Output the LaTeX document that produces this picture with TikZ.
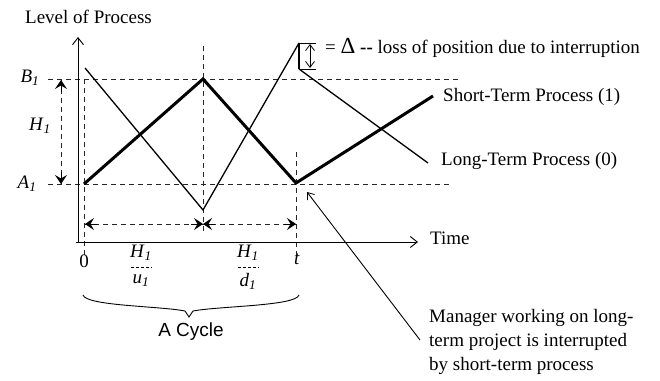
\documentclass[tikz,border=0pt]{standalone}
\usepackage{fontspec}
\setmainfont{Liberation Serif}
\newfontfamily\arialf{Liberation Sans}
\usetikzlibrary{arrows.meta,calc}
\begin{document}
\begin{tikzpicture}[x=1pt,y=-1pt,
  txt/.style={font=\fontsize{19}{23}\selectfont, inner sep=0pt},
  dsh/.style={draw=black!85, line width=0.7pt, dash pattern=on 5pt off 4pt},
  axis/.style={draw, line width=1pt, -{Straight Barb[length=7pt,width=11pt,line width=0.9pt]}},
  thick proc/.style={draw, line width=3pt, line join=miter},
  thin proc/.style={draw, line width=1.3pt, line join=miter},
  hd/.style={-{Stealth[length=9pt,width=12pt,inset=3.5pt,line width=1pt,fill=black]}},
  opentip/.style={-{Straight Barb[length=6pt,width=9pt,line width=0.8pt]}}
]
\useasboundingbox (0,0) rectangle (660,380);
% coordinates
\coordinate (O) at (78,242);
\coordinate (Ytop) at (78,37);
\coordinate (Xst) at (76,242);
\coordinate (Xend) at (418,242);
\coordinate (Bl) at (48,79); \coordinate (Br) at (458,79);
\coordinate (Al) at (48,184); \coordinate (Ar) at (452,184);
\coordinate (V1t) at (84,79); \coordinate (V1b) at (84,256);
\coordinate (V2t) at (203,46); \coordinate (V2b) at (203,234);
\coordinate (V3t) at (296,152); \coordinate (V3b) at (296,258);
\coordinate (S0) at (84,184); \coordinate (S1) at (203,79); \coordinate (S2) at (296,183); \coordinate (S3) at (433,96);
\coordinate (L0) at (85,68); \coordinate (L1) at (203,210); \coordinate (L2) at (299,43); \coordinate (L3) at (299,69); \coordinate (L4) at (428,163);
\coordinate (H1t) at (61,80); \coordinate (H1b) at (61,184);
\coordinate (T0) at (85,224); \coordinate (T1) at (203,224); \coordinate (T2) at (296,224);
\coordinate (Dt) at (300,43); \coordinate (Dtr) at (316,43);
\coordinate (Db) at (300,69); \coordinate (Dbr) at (316,69);
\coordinate (Dat) at (310,44); \coordinate (Dab) at (310,68);
\coordinate (Mtail) at (420,340); \coordinate (Mtip) at (307,192);

% dashed guides
\path[dsh] (Bl) -- (Br);
\path[dsh] (Al) -- (Ar);
\path[dsh] (V1t) -- (V1b);
\path[dsh] (V2t) -- (V2b);
\path[dsh] (V3t) -- (V3b);
\path[dsh] (H1t) -- (H1b);
\path[dsh] (T0) -- (T2);
% solid arrow heads on dashed double arrows
\draw[hd] ($(H1t)+(0,12)$) -- (H1t);
\draw[hd] ($(H1b)+(0,-12)$) -- (H1b);
\draw[hd] ($(T0)+(12,0)$) -- (T0);
\draw[hd] ($(T1)+(-12,0)$) -- (T1);
\draw[hd] ($(T1)+(12,0)$) -- (T1);
\draw[hd] ($(T2)+(-12,0)$) -- (T2);

% axes
\path[axis] (O) -- (Ytop);
\path[axis] (Xst) -- (Xend);

% processes
\path[thick proc] (S0) -- (S1) -- (S2) -- (S3);
\path[thin proc] (L0) -- (L1) -- (L2);
\path[draw, line width=2pt] (L2) -- (L3);
\path[thin proc] (L3) -- (L4);

% delta bracket
\draw[line width=0.9pt] (Dt) -- (Dtr);
\draw[line width=0.9pt] (Db) -- (Dbr);
\draw[line width=0.8pt, opentip] ($(Dat)!0.5!(Dab)$) -- (Dat);
\draw[line width=0.8pt, opentip] ($(Dat)!0.5!(Dab)$) -- (Dab);

% labels
\node[txt, anchor=south west] (lvl) at (25,24) {Level of Process};
\node[txt] (B) at (30,78) {\textit{B}\textsubscript{\textit{1}}};
\node[txt] (A) at (27,184) {\textit{A}\textsubscript{\textit{1}}};
\node[txt] (H) at (40,126) {\textit{H}\textsubscript{\textit{1}}};
\node[txt, anchor=west] (delta) at (325,48) {= {\fontsize{23}{23}\selectfont Δ} \textbf{-{}-} loss of position due to interruption};
\node[txt, anchor=west] (st) at (443,97) {Short-Term Process (1)};
\node[txt, anchor=west] (lt) at (441,161) {Long-Term Process (0)};
\node[txt, anchor=west] (time) at (430,238) {Time};
\node[txt] (zero) at (84,261) {0};
\node[txt] (tt) at (297,259) {\textit{t}};
\node[txt] (hu1) at (141,253) {\textit{H}\textsubscript{\textit{1}}};
\node[txt] (hu2) at (141,281) {\textit{u}\textsubscript{\textit{1}}};
\draw[line width=0.9pt, dash pattern=on 3pt off 2pt] (131,267) -- (152,267);
\node[txt] (hd1) at (248,253) {\textit{H}\textsubscript{\textit{1}}};
\node[txt] (hd2) at (248,281) {\textit{d}\textsubscript{\textit{1}}};
\draw[line width=0.9pt, dash pattern=on 3pt off 2pt] (238,267) -- (259,267);

% brace
\draw[line width=0.9pt] (83,295) .. controls (86,306) and (160,306) .. (185,311) -- (189,317) -- (193,311) .. controls (220,306) and (296,306) .. (299,295);
\node[txt, font=\arialf\fontsize{19}{23}\selectfont] (cyc) at (191,332) {A Cycle};

% annotation
\node[txt, anchor=north west, align=left, font=\fontsize{19}{24}\selectfont] (mgr) at (429,309) {Manager working on long-\\term project is interrupted\\by short-term process};
\draw[line width=0.9pt, opentip] (Mtail) -- (Mtip);
\end{tikzpicture}
\end{document}
